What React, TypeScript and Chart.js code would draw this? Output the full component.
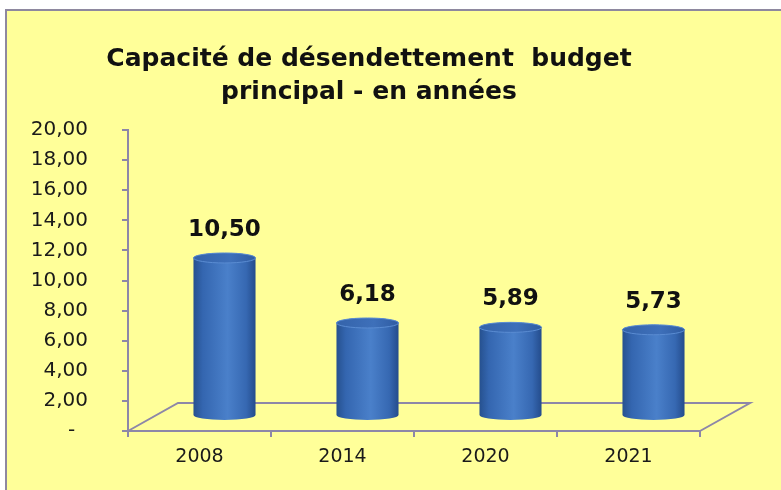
import React, { useEffect, useRef } from 'react';
import { Chart, registerables } from 'chart.js';

Chart.register(...registerables);

const categories = ['2008', '2014', '2020', '2021'];
const values = [10.5, 6.18, 5.89, 5.73];
const titleLines = ['Capacité de désendettement  budget', 'principal - en années'];
const yMin = 0;
const yMax = 20;
const yStep = 2;

const AXIS = '#8D87A8';
const DEPTH_X = 50;
const DEPTH_Y = 28;
const BAR_DX = 25;
const BAR_DY = 15;
const CAP_RY = 5;

const fmt = (v: number) => v.toFixed(2).replace('.', ',');

function drawCylinder(ctx: CanvasRenderingContext2D, cx: number, topY: number, botY: number, w: number) {
  const rx = w / 2;
  const left = cx - rx;
  const right = cx + rx;
  const grad = ctx.createLinearGradient(left, 0, right, 0);
  grad.addColorStop(0, '#26518F');
  grad.addColorStop(0.15, '#3466B0');
  grad.addColorStop(0.55, '#4A80CA');
  grad.addColorStop(0.85, '#3668B2');
  grad.addColorStop(1, '#244C8C');
  ctx.save();
  ctx.beginPath();
  ctx.moveTo(left, topY);
  ctx.lineTo(left, botY);
  ctx.ellipse(cx, botY, rx, CAP_RY, 0, Math.PI, 0, true);
  ctx.lineTo(right, topY);
  ctx.ellipse(cx, topY, rx, CAP_RY, 0, 0, Math.PI, true);
  ctx.closePath();
  ctx.fillStyle = grad;
  ctx.fill();
  const capGrad = ctx.createLinearGradient(left, 0, right, 0);
  capGrad.addColorStop(0, '#3463AA');
  capGrad.addColorStop(0.6, '#3E70BA');
  capGrad.addColorStop(1, '#2F5CA2');
  ctx.beginPath();
  ctx.ellipse(cx, topY, rx, CAP_RY, 0, 0, Math.PI * 2);
  ctx.fillStyle = capGrad;
  ctx.fill();
  ctx.lineWidth = 1;
  ctx.strokeStyle = '#5A8CD2';
  ctx.stroke();
  ctx.restore();
}

const floorPlugin = {
  id: 'floor3d',
  beforeDatasetsDraw(chart: any) {
    const { ctx, chartArea } = chart;
    const { left, right, bottom } = chartArea;
    ctx.save();
    ctx.strokeStyle = AXIS;
    ctx.lineWidth = 2;
    ctx.beginPath();
    ctx.moveTo(left, bottom);
    ctx.lineTo(left + DEPTH_X, bottom - DEPTH_Y);
    ctx.lineTo(right + DEPTH_X, bottom - DEPTH_Y);
    ctx.lineTo(right, bottom);
    ctx.stroke();
    ctx.restore();
  },
};

const cylinderPlugin = {
  id: 'cylinders',
  afterDatasetsDraw(chart: any) {
    const { ctx } = chart;
    const meta = chart.getDatasetMeta(0);
    const data = chart.data.datasets[0].data as number[];
    meta.data.forEach((el: any, i: number) => {
      const props = el.getProps(['x', 'y', 'base', 'width'], true);
      const cx = props.x + BAR_DX;
      const topY = props.y - BAR_DY;
      const botY = props.base - BAR_DY;
      drawCylinder(ctx, cx, topY, botY, props.width);
      ctx.save();
      ctx.font = 'bold 23px "DejaVu Sans"';
      ctx.fillStyle = '#111111';
      ctx.textAlign = 'center';
      ctx.textBaseline = 'middle';
      ctx.fillText(fmt(data[i]), cx, topY - 28);
      ctx.restore();
    });
  },
};

export default function App() {
  const ref = useRef<HTMLCanvasElement | null>(null);
  useEffect(() => {
    if (!ref.current) return;
    const chart = new Chart(ref.current, {
      type: 'bar',
      data: {
        labels: categories,
        datasets: [
          {
            data: values,
            backgroundColor: 'rgba(0,0,0,0)',
            borderWidth: 0,
            barPercentage: 0.434,
            categoryPercentage: 1,
          },
        ],
      },
      options: {
        animation: false,
        responsive: false,
        devicePixelRatio: 1,
        layout: { padding: { left: 24, right: 67, top: 0, bottom: 0 } },
        plugins: {
          legend: { display: false },
          tooltip: { enabled: false },
          title: {
            display: true,
            text: titleLines,
            color: '#111111',
            font: { family: '"DejaVu Sans"', size: 25, weight: 'bold', lineHeight: '33px' },
            padding: { top: 43, bottom: 21 },
          },
        },
        scales: {
          x: {
            grid: { display: true, drawOnChartArea: false, drawTicks: true, tickLength: 6, color: AXIS, lineWidth: 2, offset: true },
            border: { display: true, color: AXIS, width: 2 },
            ticks: { color: '#1a1a1a', font: { family: '"DejaVu Sans"', size: 19 }, padding: 9, maxRotation: 0 },
            afterFit: (s: any) => { s.height = 59; },
          },
          y: {
            min: yMin,
            max: yMax,
            grid: { display: true, drawOnChartArea: false, drawTicks: true, tickLength: 6, color: AXIS, lineWidth: 2 },
            border: { display: true, color: AXIS, width: 2 },
            ticks: {
              stepSize: yStep,
              color: '#1a1a1a',
              font: { family: '"DejaVu Sans"', size: 20 },
              padding: 34,
              callback: (v: any) => (Number(v) === 0 ? '-  ' : fmt(Number(v))),
            },
            afterFit: (s: any) => { s.width = 104; },
          },
          spacer: {
            type: 'linear',
            position: 'right',
            display: true,
            grid: { display: false, drawTicks: false },
            border: { display: false },
            ticks: { display: false },
            afterFit: (s: any) => { s.width = 14; },
          },
        },
      } as any,
      plugins: [floorPlugin, cylinderPlugin],
    });
    return () => chart.destroy();
  }, []);

  return (
    <div style={{ position: 'fixed', left: 0, top: 0, width: 781, height: 490, background: '#ffffff', overflow: 'hidden' }}>
      <div
        style={{
          position: 'absolute',
          left: 5,
          top: 9,
          width: 800,
          height: 500,
          background: '#FFFF99',
          borderLeft: '2px solid #8E889F',
          borderTop: '2px solid #8E889F',
        }}
      />
      <canvas ref={ref} width={781} height={490} style={{ position: 'absolute', left: 0, top: 0 }} />
    </div>
  );
}
